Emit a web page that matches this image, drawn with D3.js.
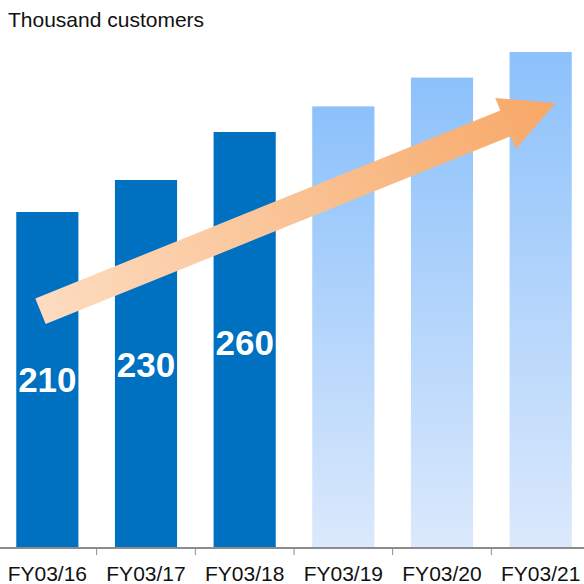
<!DOCTYPE html>
<html>
<head>
<meta charset="utf-8">
<script src="https://cdn.jsdelivr.net/npm/d3@7"></script>
<style>
  html, body { margin: 0; padding: 0; background: #fff; }
  svg { display: block; font-family: Arial, "Liberation Sans", sans-serif; }
</style>
</head>
<body>
<svg id="chart" width="584" height="584"></svg>
<script>
// fiscal years, first three are actuals, the rest are the plan
const years = ['FY03/16', 'FY03/17', 'FY03/18', 'FY03/19', 'FY03/20', 'FY03/21'];
const customers = [210, 230, 260, 276, 294, 310];
const isActual = [true, true, true, false, false, false];
const unitLabel = 'Thousand customers';

// growth arrow, given as (year, spot inside the bar, value)
const arrowFrom = { year: 'FY03/16', at: 0.39, value: 148 };
const arrowTo = { year: 'FY03/21', at: 0.74, value: 278 };

const W = 584, H = 584;
const baseY = 548;

const svg = d3.select('#chart');

const x = d3.scaleBand()
  .domain(years)
  .range([-2, 590])
  .paddingInner(0.37)
  .paddingOuter(0.185);

const y = d3.scaleLinear()
  .domain([0, 310])
  .range([baseY, 52]);

const defs = svg.append('defs');

const light = defs.append('linearGradient')
  .attr('id', 'planFill')
  .attr('x1', 0).attr('y1', 0).attr('x2', 0).attr('y2', 1);
light.append('stop').attr('offset', '0%').attr('stop-color', '#8cc1fb');
light.append('stop').attr('offset', '100%').attr('stop-color', '#dbe9fc');

// bars
svg.append('g')
  .selectAll('rect')
  .data(years)
  .join('rect')
  .attr('x', d => x(d))
  .attr('y', (d, i) => y(customers[i]))
  .attr('width', x.bandwidth())
  .attr('height', (d, i) => baseY - y(customers[i]))
  .attr('fill', (d, i) => isActual[i] ? '#0070c0' : 'url(#planFill)');

// axis
const axis = svg.append('g')
  .attr('transform', `translate(0,${baseY})`)
  .call(d3.axisBottom(x).tickSize(0).tickPadding(0).tickFormat(() => ''));
axis.select('.domain').remove();
axis.append('line')
  .attr('x1', 0).attr('x2', W)
  .attr('stroke', '#8c8c8c').attr('stroke-width', 2);

const step = x.step();
svg.append('g')
  .selectAll('line')
  .data(years.slice(1))
  .join('line')
  .attr('x1', d => x(d) - step * x.paddingInner() / 2)
  .attr('x2', d => x(d) - step * x.paddingInner() / 2)
  .attr('y1', baseY)
  .attr('y2', baseY + 7)
  .attr('stroke', '#8c8c8c')
  .attr('stroke-width', 1);

svg.append('g')
  .selectAll('text')
  .data(years)
  .join('text')
  .attr('x', d => x(d) + x.bandwidth() / 2)
  .attr('y', 581)
  .attr('text-anchor', 'middle')
  .attr('font-size', 21)
  .attr('fill', '#111')
  .text(d => d);

// unit title
svg.append('text')
  .attr('x', 8)
  .attr('y', 27)
  .attr('font-size', 21)
  .attr('fill', '#111')
  .text(unitLabel);

// arrow
const p0 = [x(arrowFrom.year) + x.bandwidth() * arrowFrom.at, y(arrowFrom.value)];
const p1 = [x(arrowTo.year) + x.bandwidth() * arrowTo.at, y(arrowTo.value)];
const dx = p1[0] - p0[0], dy = p1[1] - p0[1];
const len = Math.hypot(dx, dy);
const ux = dx / len, uy = dy / len;
const nx = -uy, ny = ux;
const shaftHalf = 13.8, headHalf = 27.5, headLen = 54;
const bx = p1[0] - ux * headLen, by = p1[1] - uy * headLen;
const pt = (px, py, s) => [px + nx * s, py + ny * s];
const arrowPts = [
  pt(p0[0], p0[1], -shaftHalf),
  pt(bx, by, -shaftHalf),
  pt(bx, by, -headHalf),
  p1,
  pt(bx, by, headHalf),
  pt(bx, by, shaftHalf),
  pt(p0[0], p0[1], shaftHalf)
];

const arrowGrad = defs.append('linearGradient')
  .attr('id', 'arrowFill')
  .attr('gradientUnits', 'userSpaceOnUse')
  .attr('x1', p0[0]).attr('y1', p0[1])
  .attr('x2', p1[0]).attr('y2', p1[1]);
arrowGrad.append('stop').attr('offset', '0%').attr('stop-color', '#fddcc0');
arrowGrad.append('stop').attr('offset', '100%').attr('stop-color', '#f7a867');

svg.append('path')
  .attr('d', d3.line()(arrowPts) + 'Z')
  .attr('fill', 'url(#arrowFill)');

// value labels on the actual bars
svg.append('g')
  .selectAll('text')
  .data(years.filter((d, i) => isActual[i]))
  .join('text')
  .attr('x', d => x(d) + x.bandwidth() / 2)
  .attr('y', (d, i) => y(customers[i] * 0.465))
  .attr('text-anchor', 'middle')
  .attr('font-size', 35)
  .attr('font-weight', 'bold')
  .attr('fill', '#fff')
  .text((d, i) => customers[i]);
</script>
</body>
</html>
